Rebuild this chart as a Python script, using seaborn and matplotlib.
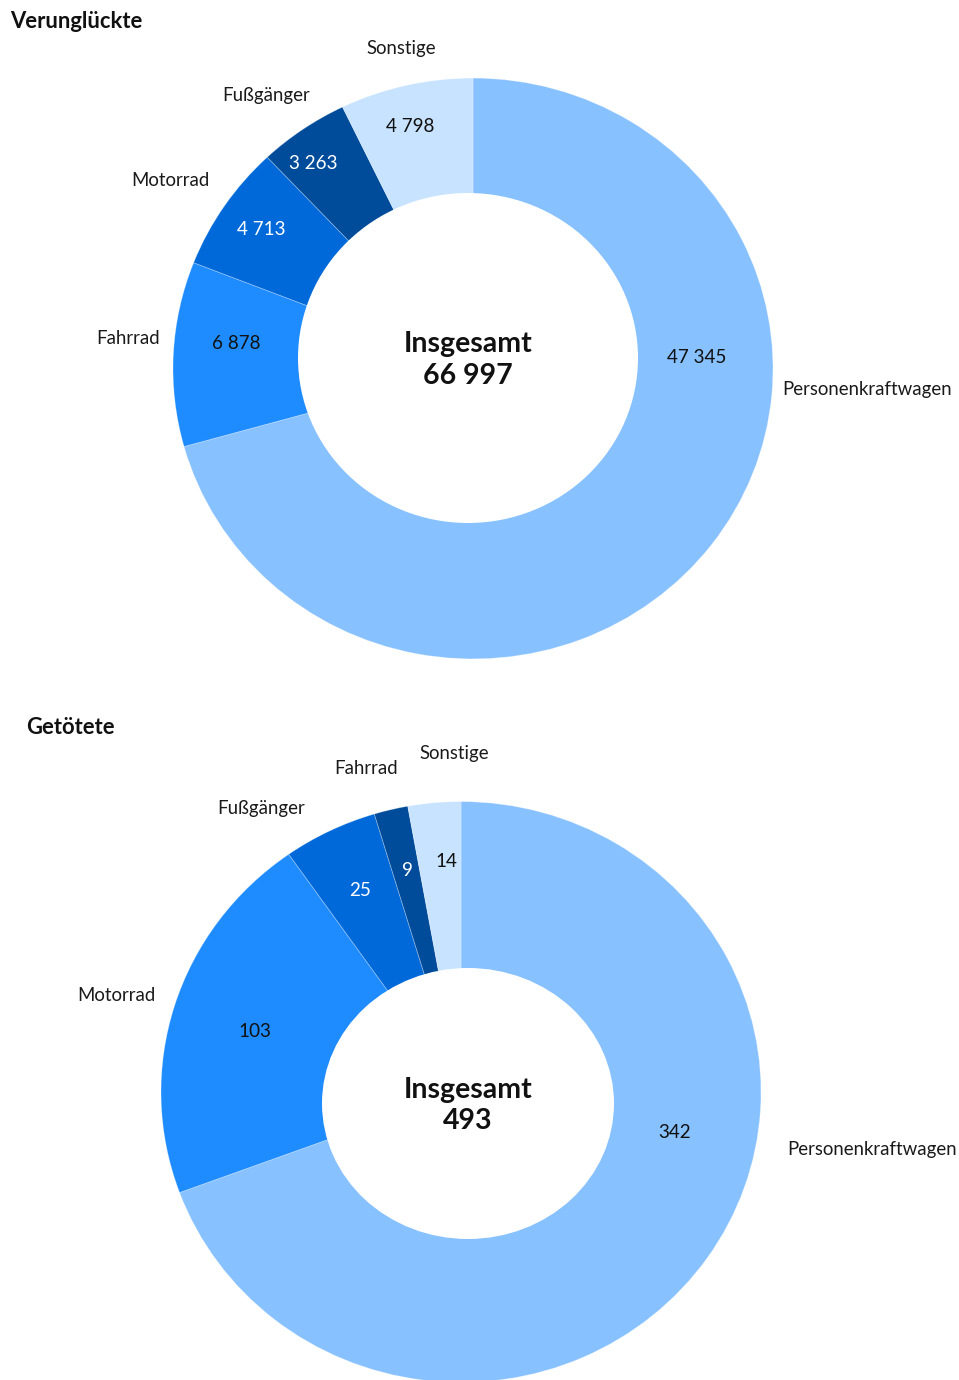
import numpy as np
import matplotlib
matplotlib.use("Agg")
import matplotlib.pyplot as plt
from matplotlib.patches import Ellipse
import seaborn as sns

# ---------------- data ----------------
categories_top = ["Personenkraftwagen", "Fahrrad", "Motorrad", "Fußgänger", "Sonstige"]
values_top = [47345, 6878, 4713, 3263, 4798]

categories_bottom = ["Personenkraftwagen", "Motorrad", "Fußgänger", "Fahrrad", "Sonstige"]
values_bottom = [342, 103, 25, 9, 14]

title_top = "Verunglückte"
title_bottom = "Getötete"
center_word = "Insgesamt"

# ---------------- style ----------------
sns.set_theme(style="white")
plt.rcParams["font.family"] = ["Lato", "DejaVu Sans"]

palette = sns.color_palette(["#87C1FF", "#1E8CFF", "#0069D9", "#004C9B", "#C8E3FF"])
value_text_colors = ["#111111", "#111111", "white", "white", "#111111"]

W, H = 959, 1380
K = 0.968  # vertical compression of the donuts

fig = plt.figure(figsize=(W / 100, H / 100), dpi=100)
ax = fig.add_axes([0, 0, 1, 1])


def P(x, y):
    return x, (H - y) / K


def fmt(v):
    return f"{v:,}".replace(",", " ")


def draw_donut(values, cats, cx, cy, hole, outer_layout, value_layout, title, title_xy):
    R = 300
    c = P(cx, cy)
    ax.pie(values, colors=palette, startangle=90, counterclock=False,
           center=c, radius=R,
           wedgeprops=dict(edgecolor=(1, 1, 1, 0.3), linewidth=0.6))
    hx, hy, hrx, hry = hole
    ax.add_patch(Ellipse(P(hx, hy), 2 * hrx, 2 * hry / K, facecolor="white",
                         edgecolor="none", zorder=3))

    def polar(theta, r):
        t = np.deg2rad(theta)
        return c[0] + r * R * np.sin(t), c[1] + r * R * np.cos(t)

    for cat, (th, r, ha) in zip(cats, outer_layout):
        x, y = polar(th, r)
        ax.text(x, y, cat, ha=ha, va="center", fontsize=13.4, color="#1a1a1a", zorder=5)

    for i, (v, (th, r)) in enumerate(zip(values, value_layout)):
        x, y = polar(th, r)
        ax.text(x, y, fmt(v), ha="center", va="center", fontsize=13.6,
                color=value_text_colors[i], zorder=5)

    total = sum(values)
    hxp, hyp = P(hx, hy)
    ax.text(hxp, hyp - 2, f"{center_word}\n{fmt(total)}", ha="center", va="center",
            fontsize=20.5, fontweight="bold", color="#111111", linespacing=1.25, zorder=6)

    tx, ty = P(*title_xy)
    ax.text(tx, ty, title, ha="left", va="center", fontsize=15.8,
            fontweight="bold", color="#111111", zorder=6)


draw_donut(values_top, categories_top, 473, 368.5, (468, 358, 170, 165),
           [(94, 1.033, "left"), (-84.4, 1.048, "right"), (-53.6, 1.093, "right"),
            (-30, 1.084, "right"), (-12.3, 1.129, "center")],
           [(87.2, 0.748), (-83.9, 0.795), (-56, 0.853), (-37.1, 0.883), (-14.1, 0.86)],
           title_top, (10, 22))

draw_donut(values_bottom, categories_bottom, 461, 1092, (468, 1103.5, 146, 135.5),
           [(100.4, 1.105, "left"), (-72, 1.072, "right"), (-28, 1.106, "right"),
            (-15.9, 1.158, "center"), (-1.1, 1.166, "center")],
           [(101, 0.726), (-73, 0.718), (-25.9, 0.77), (-13.1, 0.782), (-3.6, 0.795)],
           title_bottom, (26, 727))

ax.set_aspect("auto")
ax.set_xlim(0, W)
ax.set_ylim(0, H / K)
ax.axis("off")

fig.savefig("out.png", dpi=100, facecolor="white")
